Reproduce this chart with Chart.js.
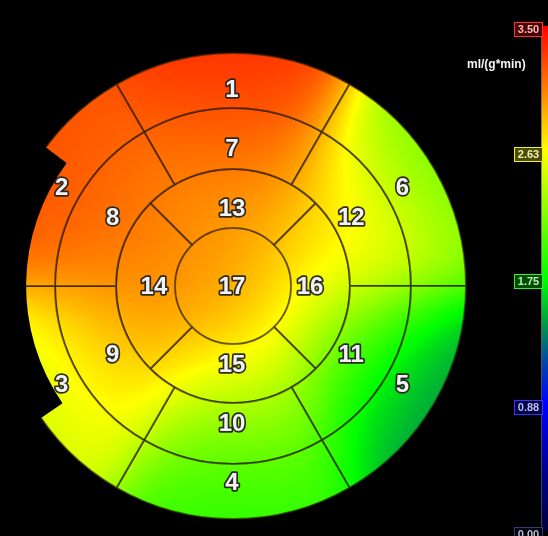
<!DOCTYPE html>
<html>
<head>
<meta charset="utf-8">
<script src="https://cdn.jsdelivr.net/npm/chart.js@4.4.1/dist/chart.umd.min.js"></script>
<style>
  html, body { margin: 0; padding: 0; background: #000; width: 548px; height: 536px; overflow: hidden; }
  #polarWrap { position: absolute; left: -1px; top: 52px; width: 468px; height: 468px; }
  #barWrap { position: absolute; left: 460px; top: 0; width: 96px; height: 536px; }
</style>
</head>
<body>
<div id="polarWrap"><canvas id="polar" width="468" height="468"></canvas></div>
<div id="barWrap"><canvas id="scaleBar" width="96" height="536"></canvas></div>
<script>
// AHA 17-segment rings, each listed clockwise starting from the top segment
const basalSegments = [1, 6, 5, 4, 3, 2];
const basalFlow     = [3.38, 2.0, 1.3, 1.85, 2.4, 3.25];
const midSegments   = [7, 12, 11, 10, 9, 8];
const midFlow       = [3.15, 2.9, 2.0, 2.1, 2.85, 3.1];
const apicalSegments = [13, 16, 15, 14];
const apicalFlow     = [2.95, 2.55, 2.7, 3.05];
const apexSegments = [17];
const apexFlow     = [3.0];

// colour scale, ml/(g*min)
const scaleTicks = [0.00, 0.88, 1.75, 2.63, 3.50];
const unitLabel = 'ml/(g*min)';
const SCALE_MIN = 0, SCALE_MAX = 3.5;
const COLOR_STOPS = [
  [0.00, [0, 0, 60]],
  [0.44, [0, 0, 150]],
  [0.88, [0, 0, 255]],
  [1.20, [0, 80, 160]],
  [1.45, [0, 160, 64]],
  [1.75, [0, 255, 0]],
  [2.19, [128, 255, 0]],
  [2.63, [255, 255, 0]],
  [3.06, [255, 128, 0]],
  [3.50, [255, 0, 0]]
];

// basal rim that falls outside the acquired field (degrees counter-clockwise from east)
const RIM_GAP = { from: 143.5, to: 214.5, keep: 0.888 };
const SMOOTHING = 55;            // px, width of the flow interpolation kernel
const LINE_COLOR = 'rgba(40,28,0,0.62)';

function flowColor(v) {
  if (v <= COLOR_STOPS[0][0]) return COLOR_STOPS[0][1];
  for (let i = 1; i < COLOR_STOPS.length; i++) {
    const [v1, c1] = COLOR_STOPS[i];
    if (v <= v1) {
      const [v0, c0] = COLOR_STOPS[i - 1];
      const t = (v - v0) / (v1 - v0);
      return [0, 1, 2].map(k => c0[k] + (c1[k] - c0[k]) * t);
    }
  }
  return COLOR_STOPS[COLOR_STOPS.length - 1][1];
}
const rgb = (c, a = 1) => `rgba(${c.map(Math.round).join(',')},${a})`;

// smooth flow field painted from the segment values, used as the fill of every arc
let fieldPattern = null;

function buildField(chart) {
  const samples = [];
  let cx = 0, cy = 0, R = 0;
  chart.data.datasets.forEach((ds, di) => {
    chart.getDatasetMeta(di).data.forEach((arc, i) => {
      const p = arc.getProps(['x', 'y', 'startAngle', 'endAngle', 'innerRadius', 'outerRadius']);
      let sx = p.x, sy = p.y;
      if (p.endAngle - p.startAngle < Math.PI * 2 - 1e-6) {
        const a = (p.startAngle + p.endAngle) / 2;
        const r = (p.innerRadius + p.outerRadius) / 2;
        sx += Math.cos(a) * r;
        sy += Math.sin(a) * r;
      }
      samples.push([sx, sy, ds.flow[i]]);
      if (p.outerRadius > R) { R = p.outerRadius; cx = p.x; cy = p.y; }
    });
  });

  const w = chart.canvas.width, h = chart.canvas.height;
  const off = document.createElement('canvas');
  off.width = w; off.height = h;
  const octx = off.getContext('2d');
  const img = octx.createImageData(w, h);
  const s2 = 2 * SMOOTHING * SMOOTHING;
  const gapR = R * RIM_GAP.keep;
  for (let py = 0; py < h; py++) {
    for (let px = 0; px < w; px++) {
      const dx = px + 0.5 - cx, dy = py + 0.5 - cy;
      const r = Math.hypot(dx, dy);
      if (r > R + 3) continue;
      let num = 0, den = 0;
      for (const [sx, sy, v] of samples) {
        const d2 = (px + 0.5 - sx) ** 2 + (py + 0.5 - sy) ** 2;
        const wt = Math.exp(-d2 / s2);
        num += wt * v; den += wt;
      }
      const c = flowColor(num / den);
      const o = (py * w + px) * 4;
      img.data[o] = c[0]; img.data[o + 1] = c[1]; img.data[o + 2] = c[2];
      img.data[o + 3] = 255;
    }
  }
  octx.putImageData(img, 0, 0);
  return { pattern: chart.ctx.createPattern(off, 'no-repeat'), cx, cy, R, gapR };
}

const fieldPlugin = {
  id: 'flowField',
  afterDatasetsUpdate(chart) {
    if (!fieldPattern) fieldPattern = buildField(chart);
  },
  // the basal rim outside the acquired field stays background
  afterDatasetsDraw(chart) {
    if (!fieldPattern) return;
    const { cx, cy, R, gapR } = fieldPattern;
    const a0 = -RIM_GAP.to * Math.PI / 180, a1 = -RIM_GAP.from * Math.PI / 180;
    const ctx = chart.ctx;
    ctx.save();
    ctx.beginPath();
    ctx.arc(cx, cy, R + 3, a0, a1);
    ctx.arc(cx, cy, gapR, a1, a0, true);
    ctx.closePath();
    ctx.fillStyle = '#000';
    ctx.fill();
    ctx.restore();
  }
};

const segmentLabels = {
  id: 'segmentLabels',
  afterDatasetsDraw(chart) {
    const ctx = chart.ctx;
    ctx.save();
    ctx.font = 'bold 24px "Liberation Sans", Arial, sans-serif';
    ctx.textAlign = 'center';
    ctx.textBaseline = 'middle';
    ctx.lineJoin = 'round';
    chart.data.datasets.forEach((ds, di) => {
      chart.getDatasetMeta(di).data.forEach((arc, i) => {
        const p = arc.getProps(['x', 'y', 'startAngle', 'endAngle', 'innerRadius', 'outerRadius']);
        let x = p.x - 1, y = p.y;
        if (p.endAngle - p.startAngle < Math.PI * 2 - 1e-6) {
          const a = (p.startAngle + p.endAngle) / 2;
          const r = p.innerRadius + (p.outerRadius - p.innerRadius) * 0.34;
          x += Math.cos(a) * r;
          y += Math.sin(a) * r;
        }
        const txt = String(ds.segments[i]);
        ctx.lineWidth = 3.5;
        ctx.strokeStyle = 'rgba(35,35,35,0.95)';
        ctx.strokeText(txt, x, y + 1);
        ctx.fillStyle = '#f2f2f2';
        ctx.fillText(txt, x, y + 1);
      });
    });
    ctx.restore();
  }
};

function ring(segments, flow, rotation, weight, borderWidth) {
  return {
    data: segments.map(() => 1),
    segments, flow, rotation, weight,
    backgroundColor: () => (fieldPattern ? fieldPattern.pattern : 'rgba(0,0,0,0)'),
    borderColor: LINE_COLOR,
    borderWidth
  };
}

const polarChart = new Chart(document.getElementById('polar'), {
  type: 'doughnut',
  data: {
    labels: basalSegments.map(String),
    datasets: [
      ring(basalSegments, basalFlow, -30, 55, 2),
      ring(midSegments, midFlow, -30, 61, 2),
      ring(apicalSegments, apicalFlow, -45, 59, 2),
      ring(apexSegments, apexFlow, 0, 58, 0)
    ]
  },
  options: {
    responsive: false,
    animation: false,
    cutout: 0,
    layout: { padding: 0 },
    plugins: { legend: { display: false }, tooltip: { enabled: false } }
  },
  plugins: [fieldPlugin, segmentLabels]
});
polarChart.update('none');

// colour bar on the right edge
const barLabels = {
  id: 'barLabels',
  afterDraw(chart) {
    const ctx = chart.ctx;
    const y = chart.scales.y;
    const area = chart.chartArea;
    ctx.save();
    ctx.font = 'bold 12px "Liberation Sans", Arial, sans-serif';
    ctx.fillStyle = '#f4f4f4';
    ctx.textAlign = 'left';
    ctx.textBaseline = 'alphabetic';
    ctx.fillText(unitLabel, 7, 68);

    ctx.font = 'bold 11px "Liberation Sans", Arial, sans-serif';
    ctx.textAlign = 'center';
    ctx.textBaseline = 'middle';
    scaleTicks.forEach(v => {
      const c = flowColor(v);
      const cy = y.getPixelForValue(v) + 3;
      const bw = 29, bh = 15;
      const bx = area.left - 27;
      const fill = c.map(k => k * 0.3);
      const edge = c.map(k => k * 0.7 + 190 * 0.3);
      const text = c.map(k => k * 0.2 + 235 * 0.8);
      ctx.fillStyle = rgb(fill);
      ctx.fillRect(bx, cy - bh / 2, bw, bh);
      ctx.strokeStyle = rgb(edge);
      ctx.lineWidth = 1;
      ctx.strokeRect(bx + 0.5, Math.round(cy - bh / 2) + 0.5, bw - 1, bh - 1);
      ctx.fillStyle = rgb(text);
      ctx.fillText(v.toFixed(2), bx + bw / 2, cy + 0.5);
    });
    ctx.restore();
  }
};

new Chart(document.getElementById('scaleBar'), {
  type: 'bar',
  data: {
    labels: [''],
    datasets: [{
      data: [[SCALE_MIN, SCALE_MAX]],
      backgroundColor(ctx) {
        const chart = ctx.chart;
        const y = chart.scales.y;
        if (!chart.chartArea || !y) return 'rgba(0,0,0,0)';
        const g = chart.ctx.createLinearGradient(0, y.getPixelForValue(SCALE_MIN), 0, y.getPixelForValue(SCALE_MAX));
        COLOR_STOPS.forEach(([v, c]) => g.addColorStop((v - SCALE_MIN) / (SCALE_MAX - SCALE_MIN), rgb(c)));
        return g;
      },
      borderColor: 'rgba(170,170,185,0.55)',
      borderWidth: { left: 1, top: 0, right: 0, bottom: 0 },
      borderSkipped: false,
      barPercentage: 1,
      categoryPercentage: 1
    }]
  },
  options: {
    responsive: false,
    animation: false,
    layout: { padding: { left: 81, right: 0, top: 26, bottom: 5 } },
    scales: {
      x: { display: false },
      y: { display: false, min: SCALE_MIN, max: SCALE_MAX }
    },
    plugins: { legend: { display: false }, tooltip: { enabled: false } }
  },
  plugins: [barLabels]
});
</script>
</body>
</html>
